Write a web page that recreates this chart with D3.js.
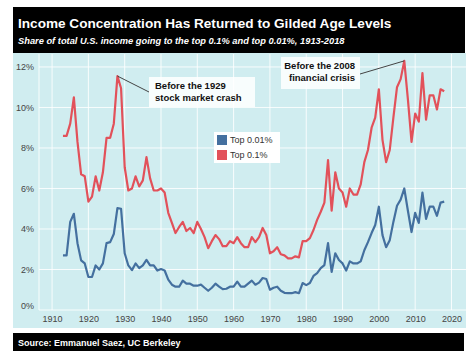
<!DOCTYPE html>
<html>
<head>
<meta charset="utf-8">
<script src="https://cdn.jsdelivr.net/npm/d3@7"></script>
<style>
  body { margin: 0; background: #fff; }
  svg { display: block; font-family: "Liberation Sans", Arial, sans-serif; }
</style>
</head>
<body>
<svg id="chart" width="473" height="361"></svg>
<script>
// Data
const years = d3.range(1913, 2019);

const top01 = [
  8.6, 8.6, 9.2, 10.5, 8.3, 6.7, 6.6, 5.35, 5.6, 6.6,      // 1913-1922
  5.9, 6.8, 8.5, 8.5, 9.2, 11.55, 10.95, 7.05, 5.9, 6.0,   // 1923-1932
  6.6, 6.1, 6.4, 7.55, 6.5, 5.9, 5.9, 6.0, 5.8, 4.8,       // 1933-1942
  4.3, 3.8, 4.1, 4.35, 3.9, 4.05, 3.8, 4.35, 4.0, 3.6,     // 1943-1952
  3.05, 3.4, 3.7, 3.5, 3.15, 3.15, 3.4, 3.3, 3.6, 3.3,     // 1953-1962
  3.1, 3.1, 3.6, 3.35, 3.6, 4.05, 3.7, 2.8, 2.9, 3.1,      // 1963-1972
  2.75, 2.7, 2.55, 2.55, 2.65, 2.6, 3.4, 3.4, 3.55, 3.95,  // 1973-1982
  4.45, 4.85, 5.3, 7.4, 4.9, 6.8, 6.0, 5.8, 5.1, 6.0,      // 1983-1992
  5.7, 5.7, 6.2, 7.3, 7.9, 9.0, 9.5, 10.9, 8.4, 7.3,       // 1993-2002
  7.9, 9.5, 11.0, 11.4, 12.3, 10.4, 8.3, 9.7, 9.3, 11.7,   // 2003-2012
  9.4, 10.6, 10.6, 9.9, 10.9, 10.8                         // 2013-2018
];

const top001 = [
  2.7, 2.7, 4.35, 4.75, 3.3, 2.45, 2.3, 1.63, 1.63, 2.2,   // 1913-1922
  2.0, 2.3, 3.3, 3.35, 3.75, 5.03, 5.0, 2.8, 2.2, 1.97,    // 1923-1932
  2.3, 2.07, 2.2, 2.47, 2.2, 2.2, 1.95, 2.02, 1.95, 1.5,   // 1933-1942
  1.25, 1.15, 1.15, 1.45, 1.3, 1.3, 1.2, 1.2, 1.25, 1.1,   // 1943-1952
  0.95, 1.1, 1.3, 1.15, 1.03, 1.05, 1.15, 1.15, 1.4, 1.15, // 1953-1962
  1.15, 1.3, 1.45, 1.25, 1.35, 1.58, 1.53, 1.0, 1.1, 1.15, // 1963-1972
  0.95, 0.85, 0.83, 0.83, 0.88, 0.83, 1.33, 1.23, 1.33, 1.68, // 1973-1982
  1.82, 2.07, 2.22, 3.3, 1.88, 2.8, 2.47, 2.3, 1.95, 2.4,  // 1983-1992
  2.3, 2.3, 2.4, 2.95, 3.35, 3.8, 4.2, 5.1, 3.7, 3.1,      // 1993-2002
  3.45, 4.35, 5.15, 5.45, 6.0, 4.9, 3.85, 4.8, 4.3, 5.8,   // 2003-2012
  4.5, 5.1, 5.1, 4.65, 5.3, 5.35                           // 2013-2018
];

const xTicks = [1910, 1920, 1930, 1940, 1950, 1960, 1970, 1980, 1990, 2000, 2010, 2020];
const yTicks = [0, 2, 4, 6, 8, 10, 12];

const seriesNames = ["Top 0.01%", "Top 0.1%"];
const seriesColors = ["#44709f", "#e2515a"];

const titleText = "Income Concentration Has Returned to Gilded Age Levels";
const subtitleText = "Share of total U.S. income going to the top 0.1% and top 0.01%, 1913-2018";
const sourceText = "Source: Emmanuel Saez, UC Berkeley";

const svg = d3.select("#chart");

// header and footer bars
svg.append("rect").attr("x", 13).attr("y", 7).attr("width", 452).attr("height", 46).attr("fill", "#000");
svg.append("text").attr("x", 18).attr("y", 28)
    .attr("fill", "#fff").attr("font-weight", "bold").attr("font-size", 13.6)
    .text(titleText);
svg.append("text").attr("x", 18).attr("y", 44)
    .attr("fill", "#fff").attr("font-weight", "bold").attr("font-style", "italic").attr("font-size", 9.3)
    .text(subtitleText);

svg.append("rect").attr("x", 13).attr("y", 333).attr("width", 451).attr("height", 18).attr("fill", "#000");
svg.append("text").attr("x", 18).attr("y", 346)
    .attr("fill", "#fff").attr("font-weight", "bold").attr("font-size", 9)
    .text(sourceText);

// panel
svg.append("rect").attr("x", 13).attr("y", 53).attr("width", 453).attr("height", 275).attr("fill", "#d0edf0");

const plot = { left: 39, right: 466, top: 54, bottom: 310 };

const x = d3.scaleLinear()
    .domain([1906.4, 2024])
    .range([plot.left, plot.right]);

const y = d3.scaleLinear()
    .domain([0, 12.64])
    .range([plot.bottom, plot.top]);

// gridlines
const grid = svg.append("g").attr("stroke", "#fff").attr("stroke-opacity", 0.85).attr("stroke-width", 1);
grid.selectAll("line.v")
    .data(xTicks)
    .join("line")
    .attr("x1", d => x(d)).attr("x2", d => x(d))
    .attr("y1", plot.top).attr("y2", plot.bottom);
grid.selectAll("line.h")
    .data(yTicks)
    .join("line")
    .attr("x1", plot.left).attr("x2", plot.right)
    .attr("y1", d => y(d)).attr("y2", d => y(d));
grid.append("line")
    .attr("x1", plot.left).attr("x2", plot.left)
    .attr("y1", plot.top).attr("y2", plot.bottom);

// axes
const xAxis = svg.append("g")
    .attr("transform", `translate(0,${plot.bottom})`)
    .call(d3.axisBottom(x).tickValues(xTicks).tickFormat(d3.format("d")).tickSize(0).tickPadding(6));
xAxis.select(".domain").remove();
xAxis.selectAll("text").attr("fill", "#444").attr("font-size", 9).attr("font-family", "Liberation Sans, Arial, sans-serif");

const yAxis = svg.append("g")
    .attr("transform", `translate(${plot.left},0)`)
    .call(d3.axisLeft(y).tickValues(yTicks).tickFormat(d => d + "%").tickSize(0).tickPadding(5));
yAxis.select(".domain").remove();
yAxis.selectAll("text").attr("fill", "#444").attr("font-size", 9).attr("font-family", "Liberation Sans, Arial, sans-serif");
// the 0% label sits a little above its gridline in the original
yAxis.selectAll("text").filter(d => d === 0).attr("y", -4);

// lines
const line = d3.line()
    .x((d, i) => x(years[i]))
    .y(d => y(d));

[top001, top01].forEach((vals, i) => {
    svg.append("path")
        .datum(vals)
        .attr("fill", "none")
        .attr("stroke", seriesColors[i])
        .attr("stroke-width", 2.2)
        .attr("stroke-linejoin", "round")
        .attr("d", line);
});

// legend
const legend = svg.append("g").attr("transform", "translate(214,132)");
legend.append("rect").attr("width", 66).attr("height", 31).attr("fill", "#fff");
seriesNames.forEach((name, i) => {
    legend.append("rect")
        .attr("x", 3).attr("y", 3 + i * 15)
        .attr("width", 10).attr("height", 10)
        .attr("fill", seriesColors[i]);
    legend.append("text")
        .attr("x", 16).attr("y", 8 + i * 15)
        .attr("dy", "0.35em")
        .attr("font-size", 9).attr("fill", "#333")
        .text(name);
});

// annotations
function annotate(year, value, box, lines, anchor) {
    svg.append("line")
        .attr("x1", x(year)).attr("y1", y(value))
        .attr("x2", box.lx).attr("y2", box.ly)
        .attr("stroke", "#444").attr("stroke-width", 1);
    svg.append("rect")
        .attr("x", box.x).attr("y", box.y).attr("width", box.w).attr("height", box.h)
        .attr("fill", "#fff").attr("fill-opacity", 0.85);
    lines.forEach((t, i) => {
        svg.append("text")
            .attr("x", anchor === "end" ? box.x + box.w - 5 : box.x + 6)
            .attr("y", box.y + 9 + i * 12)
            .attr("dy", "0.35em")
            .attr("text-anchor", anchor)
            .attr("font-weight", "bold").attr("font-size", 9.5).attr("fill", "#111")
            .text(t);
    });
}

annotate(1928, 11.55, { x: 149, y: 77, w: 106, h: 30, lx: 149, ly: 92 },
    ["Before the 1929", "stock market crash"], "start");
annotate(2007, 12.3, { x: 281, y: 57, w: 79, h: 32, lx: 360, ly: 74 },
    ["Before the 2008", "financial crisis"], "end");
</script>
</body>
</html>
